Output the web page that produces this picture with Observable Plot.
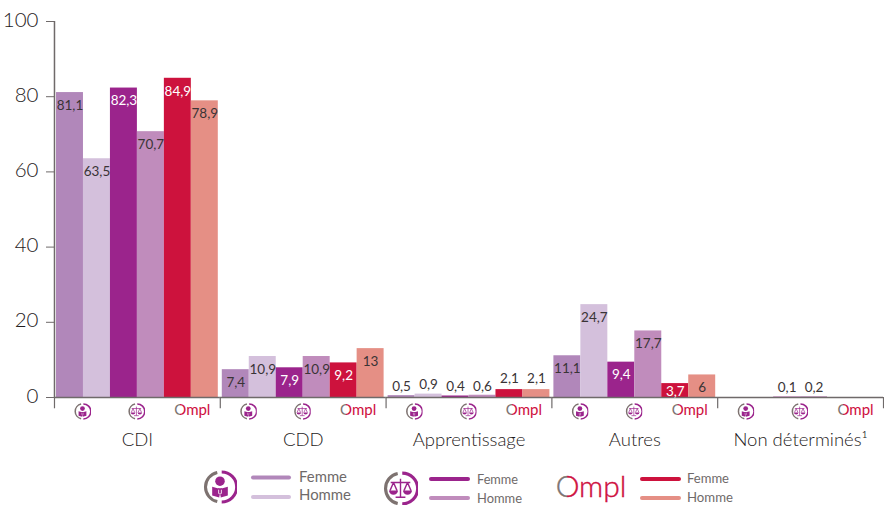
<!DOCTYPE html>
<html><head><meta charset="utf-8">
<script src="https://cdn.jsdelivr.net/npm/d3@7"></script>
<script src="https://cdn.jsdelivr.net/npm/@observablehq/plot@0.6"></script>
<style>
html,body{margin:0;padding:0;background:#fff}
#chart svg{display:block}
#legend{display:block}
</style></head><body>
<div id="chart"></div>
<svg id="legend" width="884" height="43" viewBox="0 462 884 43" xmlns="http://www.w3.org/2000/svg" style="font-family:Lato,sans-serif"></svg>
<script>
const categories = ["CDI", "CDD", "Apprentissage", "Autres", "Non déterminés¹"];
const seriesKeys = ["A-F", "A-H", "B-F", "B-H", "C-F", "C-H"];
const seriesColors = ["#b187ba", "#d4c0dc", "#9b248c", "#c08cbc", "#cd123d", "#e58f85"];
const valuesAF = [81.1, 7.4, 0.5, 11.1, null];
const valuesAH = [63.5, 10.9, 0.9, 24.7, null];
const valuesBF = [82.3, 7.9, 0.4, 9.4, 0.1];
const valuesBH = [70.7, 10.9, 0.6, 17.7, 0.2];
const valuesCF = [84.9, 9.2, 2.1, 3.7, null];
const valuesCH = [78.9, 13, 2.1, 6, null];
const yTicks = [0, 20, 40, 60, 80, 100];
const allValues = [valuesAF, valuesAH, valuesBF, valuesBH, valuesCF, valuesCH];

const ink = "#3a3436", axisInk = "#1f1b1c", grey = "#6f6a6a", font = "Lato, sans-serif";
const rows = categories.flatMap((category, c) =>
  seriesKeys.map((series, s) => ({category, series, value: allValues[s][c]})).filter(d => d.value != null));
const fmt = d => String(d.value).replace(".", ",");

const ring = `<path d="M42 7A44 44 0 0 0 42 93" fill="none" stroke="#7d7270" stroke-width="9"/><path d="M55 6A44 44 0 0 1 55 94" fill="none" stroke="#9b248c" stroke-width="9"/>`;
const personBody = `<circle cx="50" cy="33" r="14" fill="#9b248c"/><path d="M27 49L48 55V81L27 75ZM73 49L52 55V81L73 75Z" fill="#9b248c"/><path d="M44 54H56V72Q50 78 44 72Z" fill="#9b248c"/><path d="M46 58V69Q50 73 54 69V58" fill="none" stroke="#fff" stroke-width="2.5"/>`;
const scaleBody = `<g fill="none" stroke="#9b248c" stroke-width="4"><path d="M50 22V74M36 75H64M22 33H78"/><path d="M30 33L20 56M30 33L40 56M70 33L60 56M70 33L80 56"/></g><path d="M17 56H43A13 12 0 0 1 17 56ZM57 56H83A13 12 0 0 1 57 56Z" fill="#9b248c"/>`;
const svgFor = body => `<svg xmlns="http://www.w3.org/2000/svg" viewBox="0 0 100 100">${body}</svg>`;
const personIcon = svgFor(ring + personBody);
const scaleIcon = svgFor(ring + scaleBody);
const uri = s => "data:image/svg+xml;utf8," + encodeURIComponent(s);

const legend = document.getElementById("legend");
legend.innerHTML = `<defs><linearGradient id="ompl" x1="0" x2="1" y1="0" y2="0">
<stop offset="0" stop-color="#7d7270"/><stop offset="0.16" stop-color="#7d7270"/><stop offset="0.17" stop-color="#cd123d"/><stop offset="1" stop-color="#cd123d"/></linearGradient></defs>`;

const dyFor = v => v < 1 ? -9 : v < 3 ? -11 : v < 5 ? 8 : 13;
const isWhite = d => dyFor(d.value) > 0 && (d.series === "B-F" || d.series === "C-F");
const groups = [-9, -11, 8, 13];
const labelMarks = groups.flatMap(dy => [true, false].map(white =>
  Plot.text(rows.filter(d => dyFor(d.value) === dy && isWhite(d) === white), {
    fx: "category", x: "series", y: "value", text: fmt, dy,
    fill: white ? "#ffffff" : ink, fontSize: 13.5, fontFamily: font
  })));

const iconY = -3.7, tickEnd = -3;
const byCategory = categories.map(category => ({category}));
const barW = 829 / 5 / 6 * (162 / 165.8);
const bound = barW / 2 + 2;

const plot = Plot.plot({
  width: 884, height: 462,
  marginLeft: 54, marginRight: 1, marginTop: 21, marginBottom: 65,
  style: {fontFamily: font, color: ink, background: "#fff"},
  fx: {domain: categories, padding: 0, round: false, label: null},
  x: {domain: seriesKeys, padding: 0, round: false, insetLeft: 2, insetRight: 2, axis: null},
  y: {domain: [0, 100], label: null},
  color: {domain: seriesKeys, range: seriesColors},
  marks: [
    Plot.barY(rows, {fx: "category", x: "series", y: "value", fill: "series"}),
    Plot.ruleY([0], {stroke: grey, strokeWidth: 1.5}),
    Plot.ruleX(byCategory, {fx: "category", x: () => "A-F", y1: tickEnd, y2: 0, dx: -bound, stroke: grey, strokeWidth: 1.2}),
    Plot.ruleX(byCategory.slice(-1), {fx: "category", x: () => "C-H", y1: tickEnd, y2: 0, dx: bound, stroke: grey, strokeWidth: 1.2}),
    Plot.ruleX(byCategory.slice(0, 1), {fx: "category", x: () => "A-F", y1: 0, y2: 100, dx: -bound, stroke: grey, strokeWidth: 1.5}),
    Plot.image(byCategory, {fx: "category", x: () => "A-F", y: () => iconY, dx: barW / 2 - 1, src: () => uri(personIcon), width: 17, height: 17}),
    Plot.image(byCategory, {fx: "category", x: () => "B-F", y: () => iconY, dx: barW / 2 - 1, src: () => uri(scaleIcon), width: 17, height: 17}),
    Plot.text(byCategory, {fx: "category", x: () => "C-F", y: () => iconY, dy: -1, dx: barW / 2 + 1, text: () => "Ompl", fill: "url(#ompl)", fontSize: 15, fontFamily: font}),
    ...labelMarks,
    Plot.axisY({ticks: yTicks, tickSize: 8, text: null, stroke: grey, label: null}),
    Plot.axisY({ticks: yTicks, tickSize: 0, tickPadding: 16, dy: -1.5, fontSize: 20.5, fill: axisInk, label: null, fontFamily: font, fontWeight: 300}),
    Plot.axisFx({anchor: "bottom", tickSize: 0, tickPadding: 35, fontSize: 18.5, fill: axisInk, label: null, fontFamily: font, fontWeight: 300})
  ]
});
document.getElementById("chart").appendChild(plot);

const entries = [
  {icon: personIcon, ix: 203, iy: 470, iw: 34, x1: 253, x2: 289, tx: 299, ys: [477.5, 497], colors: ["#b187ba", "#d4c0dc"], size: 15, lens: [48, 52], tdy: [-1, -2]},
  {icon: scaleIcon, ix: 383, iy: 471, iw: 35, x1: 431, x2: 468, tx: 477, ys: [479, 498], colors: ["#9b248c", "#c08cbc"], size: 14, lens: [41, 45], tdy: [0, 0]},
  {x1: 642, x2: 679, tx: 687, ys: [479, 498], colors: ["#cd123d", "#e58f85"], size: 14, lens: [42, 46], tdy: [-1, -1]}
];
let html = "";
for (const e of entries) {
  if (e.icon) html += `<image x="${e.ix}" y="${e.iy}" width="${e.iw}" height="${e.iw}" href="${uri(e.icon)}"/>`;
  ["Femme", "Homme"].forEach((t, i) => {
    html += `<line x1="${e.x1}" x2="${e.x2}" y1="${e.ys[i]}" y2="${e.ys[i]}" stroke="${e.colors[i]}" stroke-width="4" stroke-linecap="round"/>`;
    html += `<text x="${e.tx}" y="${e.ys[i] + e.tdy[i]}" dy="0.35em" font-size="${e.size}" fill="${grey}" textLength="${e.lens[i]}" lengthAdjust="spacingAndGlyphs">${t}</text>`;
  });
}
html += `<text x="591" y="486" text-anchor="middle" dy="0.35em" font-size="30" font-weight="300" stroke="url(#ompl)" stroke-width="0.4" fill="url(#ompl)">Ompl</text>`;
legend.insertAdjacentHTML("beforeend", html);
</script>
</body></html>
